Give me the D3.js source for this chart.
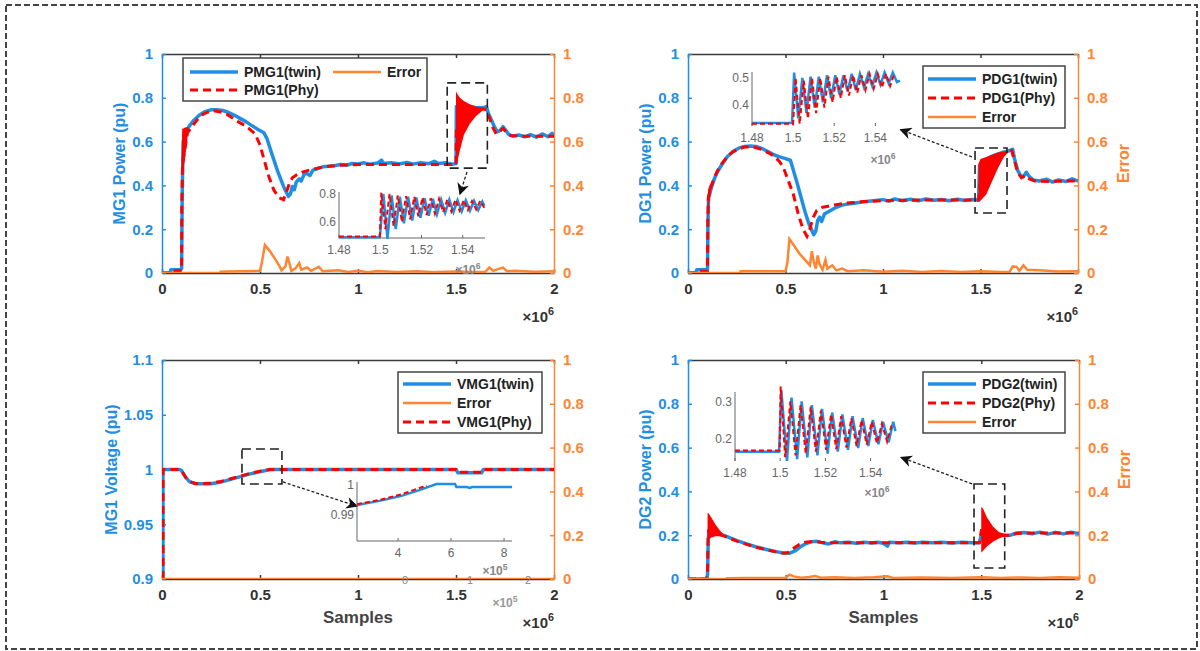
<!DOCTYPE html>
<html>
<head>
<meta charset="utf-8">
<script src="https://cdn.jsdelivr.net/npm/d3@7"></script>
<style>
  body { margin: 0; background: #fff; }
  svg { display: block; }
  text { font-family: "Liberation Sans", Arial, sans-serif; }
</style>
</head>
<body>
<svg id="chart" width="1200" height="651"></svg>
<script>
// ---- tick labels ----
const xTicks = [0, 0.5, 1, 1.5, 2];
const powerTicks = [0, 0.2, 0.4, 0.6, 0.8, 1];
const voltTicks = [0.9, 0.95, 1, 1.05, 1.1];
const errTicks = [0, 0.2, 0.4, 0.6, 0.8, 1];
const insetPowerXTicks = [1.48, 1.5, 1.52, 1.54];

// ---- MG1 power (x in 1e6 samples) ----
const pmg1Twin = [[0,0],[0.04,0],[0.045,0.015],[0.095,0.015],[0.1,0.02],[0.103,0.35],[0.108,0.6],[0.115,0.635],[0.125,0.65],[0.14,0.672],[0.16,0.695],[0.19,0.72],[0.22,0.737],[0.25,0.745],[0.28,0.746],[0.31,0.742],[0.34,0.733],[0.37,0.72],[0.4,0.705],[0.43,0.69],[0.46,0.672],[0.49,0.655],[0.52,0.64],[0.535,0.615],[0.56,0.545],[0.59,0.465],[0.62,0.395],[0.645,0.35],[0.655,0.36],[0.665,0.395],[0.675,0.38],[0.685,0.415],[0.7,0.43],[0.71,0.42],[0.725,0.45],[0.74,0.455],[0.755,0.445],[0.77,0.47],[0.79,0.475],[0.82,0.485],[0.85,0.487],[0.88,0.49],[0.91,0.495],[0.94,0.492],[0.97,0.5],[1.0,0.498],[1.03,0.503],[1.06,0.497],[1.1,0.502],[1.12,0.515],[1.13,0.5],[1.17,0.503],[1.21,0.498],[1.25,0.505],[1.28,0.497],[1.32,0.504],[1.36,0.499],[1.39,0.51],[1.41,0.5],[1.45,0.503],[1.48,0.497],[1.5,0.5],[1.502,0.76],[1.52,0.775],[1.55,0.765],[1.6,0.755],[1.64,0.755],[1.655,0.76],[1.665,0.73],[1.68,0.7],[1.695,0.67],[1.71,0.645],[1.725,0.65],[1.74,0.668],[1.755,0.65],[1.77,0.632],[1.79,0.625],[1.82,0.63],[1.85,0.622],[1.88,0.632],[1.91,0.62],[1.94,0.635],[1.97,0.622],[1.99,0.638],[2,0.628]];
const pmg1Phy = [[0,0],[0.045,0],[0.05,0.01],[0.1,0.01],[0.101,0.3],[0.105,0.5],[0.13,0.64],[0.15,0.665],[0.18,0.7],[0.21,0.725],[0.24,0.737],[0.27,0.74],[0.3,0.735],[0.33,0.725],[0.36,0.708],[0.39,0.69],[0.42,0.675],[0.45,0.655],[0.475,0.635],[0.5,0.585],[0.52,0.52],[0.545,0.44],[0.57,0.38],[0.595,0.345],[0.62,0.335],[0.635,0.37],[0.65,0.41],[0.665,0.435],[0.69,0.45],[0.72,0.462],[0.76,0.472],[0.8,0.48],[0.85,0.487],[0.9,0.492],[0.95,0.494],[1.0,0.495],[1.1,0.496],[1.2,0.495],[1.3,0.496],[1.4,0.495],[1.5,0.495],[1.502,0.65],[1.55,0.72],[1.6,0.74],[1.64,0.75],[1.655,0.745],[1.67,0.71],[1.69,0.66],[1.705,0.635],[1.72,0.645],[1.74,0.66],[1.76,0.64],[1.78,0.628],[1.82,0.625],[1.9,0.625],[2,0.625]];
// dense oscillation envelopes of the physical signal: [x, low, high]
const pmg1Bands = [
  [[0.1,0.45,0.5],[0.103,0.45,0.66],[0.11,0.48,0.66],[0.12,0.54,0.665],[0.13,0.62,0.665],[0.135,0.645,0.665]],
  [[1.5,0.49,0.83],[1.505,0.5,0.82],[1.52,0.56,0.8],[1.54,0.63,0.785],[1.57,0.68,0.77],[1.6,0.715,0.76],[1.63,0.738,0.756],[1.645,0.748,0.752]]
];
const pmg1Err = [[0,0],[0.3,0],[0.3,0.006],[0.4,0.008],[0.5,0.01],[0.51,0.05],[0.525,0.128],[0.55,0.1],[0.58,0.06],[0.6,0.03],[0.61,0.012],[0.63,0.03],[0.64,0.075],[0.65,0.045],[0.66,0.01],[0.68,0.02],[0.7,0.045],[0.71,0.015],[0.74,0.025],[0.76,0.01],[0.8,0.028],[0.82,0.008],[0.9,0.012],[0.95,0.005],[1.0,0.01],[1.05,0.004],[1.1,0.009],[1.2,0.005],[1.3,0.008],[1.4,0.004],[1.5,0.007],[1.6,0.004],[1.65,0.005],[1.67,0.025],[1.69,0.01],[1.72,0.02],[1.74,0.025],[1.76,0.008],[1.8,0.01],[1.9,0.006],[2,0.008]];
const pmg1InsetTwin = [[1.48,0.492],[1.4995,0.492],[1.5,0.52],[1.5015,0.8],[1.5035,0.48],[1.5055,0.79],[1.5075,0.55],[1.5095,0.78],[1.5115,0.59],[1.5135,0.78],[1.5155,0.61],[1.5175,0.775],[1.5195,0.63],[1.5215,0.77],[1.5235,0.645],[1.5255,0.765],[1.5275,0.655],[1.5295,0.76],[1.5315,0.665],[1.5335,0.76],[1.5355,0.67],[1.5375,0.755],[1.5395,0.675],[1.5415,0.755],[1.5435,0.68],[1.5455,0.75],[1.5475,0.685],[1.5495,0.745],[1.5505,0.715]];
const pmg1InsetPhy = [[1.48,0.497],[1.4998,0.497],[1.5005,0.81],[1.5025,0.55],[1.5045,0.8],[1.5065,0.57],[1.5085,0.79],[1.5105,0.6],[1.5125,0.785],[1.5145,0.62],[1.5165,0.78],[1.5185,0.64],[1.5205,0.775],[1.5225,0.65],[1.5245,0.77],[1.5265,0.66],[1.5285,0.765],[1.5305,0.67],[1.5325,0.76],[1.5345,0.675],[1.5365,0.76],[1.5385,0.68],[1.5405,0.755],[1.5425,0.685],[1.5445,0.75],[1.5465,0.69],[1.5485,0.75],[1.5505,0.7]];

// ---- DG1 power ----
const pdg1Twin = [[0,0],[0.04,0],[0.045,0.015],[0.1,0.015],[0.102,0.2],[0.105,0.34],[0.12,0.39],[0.135,0.43],[0.15,0.46],[0.17,0.49],[0.2,0.53],[0.23,0.555],[0.26,0.57],[0.29,0.578],[0.32,0.58],[0.35,0.578],[0.38,0.568],[0.41,0.555],[0.44,0.54],[0.47,0.53],[0.5,0.522],[0.525,0.515],[0.54,0.47],[0.56,0.41],[0.58,0.345],[0.6,0.28],[0.62,0.225],[0.645,0.175],[0.655,0.19],[0.665,0.24],[0.675,0.255],[0.685,0.235],[0.7,0.27],[0.72,0.28],[0.74,0.29],[0.76,0.3],[0.79,0.31],[0.82,0.315],[0.86,0.32],[0.9,0.325],[0.95,0.33],[1.0,0.335],[1.03,0.328],[1.06,0.338],[1.1,0.33],[1.14,0.337],[1.18,0.33],[1.22,0.338],[1.26,0.332],[1.3,0.336],[1.34,0.33],[1.38,0.337],[1.42,0.331],[1.46,0.336],[1.49,0.332],[1.495,0.49],[1.52,0.515],[1.55,0.53],[1.58,0.54],[1.61,0.55],[1.64,0.556],[1.665,0.565],[1.675,0.52],[1.69,0.47],[1.705,0.445],[1.72,0.44],[1.735,0.46],[1.75,0.44],[1.77,0.425],[1.8,0.42],[1.84,0.428],[1.87,0.415],[1.9,0.425],[1.94,0.418],[1.97,0.43],[2,0.42]];
const pdg1Phy = [[0,0],[0.045,0],[0.05,0.008],[0.1,0.008],[0.102,0.25],[0.105,0.35],[0.12,0.4],[0.135,0.435],[0.15,0.465],[0.17,0.495],[0.2,0.53],[0.23,0.553],[0.26,0.567],[0.29,0.575],[0.32,0.576],[0.35,0.572],[0.38,0.563],[0.41,0.55],[0.44,0.535],[0.47,0.508],[0.49,0.48],[0.515,0.42],[0.54,0.36],[0.565,0.27],[0.59,0.2],[0.61,0.168],[0.625,0.2],[0.64,0.25],[0.66,0.285],[0.69,0.3],[0.72,0.305],[0.76,0.312],[0.8,0.318],[0.85,0.322],[0.9,0.326],[1.0,0.33],[1.1,0.332],[1.2,0.333],[1.3,0.333],[1.4,0.333],[1.49,0.333],[1.5,0.42],[1.55,0.5],[1.6,0.54],[1.64,0.552],[1.66,0.558],[1.675,0.51],[1.69,0.46],[1.71,0.435],[1.73,0.445],[1.75,0.43],[1.78,0.42],[1.85,0.418],[1.95,0.42],[2,0.42]];
const pdg1Bands = [
  [[0.1,0.2,0.3],[0.103,0.26,0.38],[0.11,0.33,0.4],[0.12,0.38,0.41]],
  [[1.49,0.33,0.5],[1.5,0.33,0.52],[1.53,0.36,0.53],[1.56,0.42,0.54],[1.59,0.48,0.55],[1.62,0.53,0.555],[1.64,0.548,0.558]]
];
const pdg1Err = [[0,0],[0.27,0],[0.27,0.008],[0.5,0.008],[0.51,0.05],[0.52,0.155],[0.54,0.13],[0.57,0.09],[0.6,0.06],[0.625,0.035],[0.635,0.1],[0.645,0.05],[0.655,0.02],[0.665,0.08],[0.675,0.04],[0.69,0.015],[0.705,0.06],[0.715,0.02],[0.74,0.035],[0.76,0.012],[0.79,0.02],[0.82,0.008],[0.9,0.012],[1.0,0.006],[1.1,0.01],[1.2,0.005],[1.3,0.009],[1.4,0.005],[1.5,0.008],[1.6,0.005],[1.65,0.006],[1.665,0.03],[1.685,0.028],[1.7,0.01],[1.72,0.035],[1.74,0.015],[1.8,0.012],[1.9,0.007],[2,0.008]];
const pdg1InsetTwin = [[1.48,0.333],[1.4995,0.333],[1.5005,0.52],[1.5025,0.35],[1.5045,0.5],[1.5065,0.37],[1.5085,0.505],[1.5105,0.39],[1.5125,0.505],[1.5145,0.41],[1.5165,0.51],[1.5185,0.425],[1.5205,0.51],[1.5225,0.44],[1.5245,0.51],[1.5265,0.45],[1.5285,0.515],[1.5305,0.455],[1.5325,0.515],[1.5345,0.465],[1.5365,0.515],[1.5385,0.47],[1.5405,0.52],[1.5425,0.475],[1.5445,0.52],[1.5465,0.48],[1.5485,0.52],[1.5505,0.485],[1.552,0.49]];
const pdg1InsetPhy = [[1.48,0.33],[1.5,0.33],[1.5012,0.5],[1.5032,0.33],[1.5052,0.49],[1.5072,0.35],[1.5092,0.5],[1.5112,0.37],[1.5132,0.5],[1.5152,0.39],[1.5172,0.505],[1.5192,0.41],[1.5212,0.505],[1.5232,0.425],[1.5252,0.51],[1.5272,0.435],[1.5292,0.51],[1.5312,0.445],[1.5332,0.51],[1.5352,0.455],[1.5372,0.515],[1.5392,0.46],[1.5412,0.515],[1.5432,0.465],[1.5452,0.515],[1.5472,0.47],[1.5492,0.515]];

// ---- MG1 voltage ----
const vmg1Twin = [[0.005,0.9],[0.005,1.0],[0.09,1.0],[0.1,0.999],[0.12,0.993],[0.14,0.989],[0.17,0.987],[0.2,0.987],[0.25,0.987],[0.3,0.9885],[0.35,0.991],[0.4,0.9935],[0.45,0.996],[0.5,0.998],[0.55,1.0],[0.6,1.0],[1.0,1.0],[1.5,1.0],[1.51,0.997],[1.63,0.997],[1.64,1.0],[2,1.0]];
const vmg1Phy = [[0.005,0.9],[0.005,1.0],[0.09,1.0],[0.1,0.999],[0.12,0.993],[0.14,0.989],[0.17,0.9872],[0.2,0.9872],[0.25,0.9875],[0.3,0.989],[0.35,0.9915],[0.4,0.994],[0.45,0.9965],[0.5,0.9985],[0.55,1.0],[0.6,1.0],[1.0,1.0],[1.5,1.0],[1.51,0.9975],[1.63,0.9975],[1.64,1.0],[2,1.0]];
const vmg1Err = [[0,0],[2,0]];
// inset x in 1e5 samples
const vmg1InsetTwin = [[2.45,0.9933],[3.3,0.9947],[4.1,0.9963],[4.8,0.9983],[5.45,1.0003],[6.15,1.0003],[6.2,0.9993],[6.6,0.9993],[6.7,0.999],[6.8,0.9993],[8.3,0.9993]];
const vmg1InsetPhy = [[2.45,0.9936],[3.3,0.995],[4.1,0.9968],[4.8,0.999],[5.1,0.9997]];

// ---- DG2 power ----
const pdg2Twin = [[0,0],[0.095,0],[0.1,0.02],[0.103,0.16],[0.106,0.22],[0.12,0.215],[0.14,0.21],[0.16,0.205],[0.18,0.2],[0.2,0.193],[0.25,0.175],[0.3,0.16],[0.35,0.146],[0.4,0.135],[0.45,0.125],[0.48,0.12],[0.52,0.118],[0.55,0.13],[0.58,0.15],[0.6,0.16],[0.63,0.17],[0.66,0.172],[0.69,0.165],[0.72,0.16],[0.75,0.17],[0.78,0.165],[0.82,0.168],[0.86,0.163],[0.9,0.168],[0.94,0.164],[0.97,0.168],[1.0,0.163],[1.02,0.15],[1.03,0.168],[1.08,0.165],[1.12,0.168],[1.16,0.164],[1.2,0.168],[1.25,0.165],[1.3,0.168],[1.35,0.164],[1.4,0.168],[1.45,0.165],[1.49,0.165],[1.5,0.2],[1.52,0.16],[1.55,0.185],[1.58,0.195],[1.6,0.2],[1.65,0.2],[1.68,0.21],[1.72,0.212],[1.76,0.206],[1.8,0.214],[1.84,0.205],[1.88,0.213],[1.92,0.206],[1.96,0.214],[2,0.208]];
const pdg2Phy = [[0,0],[0.095,0],[0.1,0.02],[0.103,0.2],[0.106,0.22],[0.12,0.215],[0.14,0.208],[0.16,0.203],[0.18,0.198],[0.2,0.19],[0.25,0.173],[0.3,0.158],[0.35,0.145],[0.4,0.134],[0.45,0.124],[0.49,0.118],[0.51,0.12],[0.54,0.14],[0.57,0.158],[0.6,0.168],[0.64,0.172],[0.68,0.168],[0.72,0.165],[0.8,0.166],[0.9,0.166],[1.0,0.166],[1.1,0.166],[1.2,0.166],[1.3,0.166],[1.4,0.166],[1.49,0.166],[1.5,0.22],[1.55,0.2],[1.6,0.2],[1.65,0.198],[1.68,0.208],[1.75,0.21],[1.85,0.21],[2,0.21]];
const pdg2Bands = [
  [[0.1,0.15,0.3],[0.105,0.18,0.3],[0.12,0.19,0.28],[0.14,0.195,0.25],[0.16,0.195,0.225],[0.18,0.195,0.205]],
  [[1.5,0.12,0.33],[1.51,0.13,0.32],[1.53,0.15,0.28],[1.56,0.17,0.24],[1.59,0.185,0.215],[1.62,0.195,0.205]]
];
const pdg2Err = [[0,0],[0.2,0],[0.2,0.004],[0.3,0.005],[0.4,0.004],[0.5,0.006],[0.52,0.02],[0.54,0.012],[0.58,0.006],[0.62,0.009],[0.65,0.014],[0.68,0.006],[0.75,0.008],[0.85,0.005],[0.95,0.008],[1.02,0.012],[1.05,0.005],[1.2,0.007],[1.35,0.005],[1.5,0.008],[1.6,0.005],[1.7,0.007],[1.8,0.005],[1.9,0.008],[2,0.006]];
const pdg2InsetTwin = [[1.48,0.165],[1.4995,0.165],[1.5005,0.33],[1.503,0.14],[1.505,0.31],[1.5075,0.145],[1.5095,0.3],[1.512,0.15],[1.514,0.29],[1.5165,0.155],[1.5185,0.28],[1.521,0.16],[1.523,0.27],[1.5255,0.165],[1.5275,0.265],[1.53,0.17],[1.532,0.26],[1.5345,0.175],[1.5365,0.255],[1.539,0.18],[1.541,0.25],[1.5435,0.185],[1.5455,0.245],[1.548,0.19],[1.55,0.245],[1.551,0.22]];
const pdg2InsetPhy = [[1.48,0.168],[1.4998,0.168],[1.5002,0.34],[1.5022,0.15],[1.5045,0.3],[1.5068,0.155],[1.509,0.29],[1.5113,0.16],[1.5135,0.285],[1.5158,0.165],[1.518,0.275],[1.5203,0.17],[1.5225,0.265],[1.5248,0.172],[1.527,0.26],[1.5293,0.176],[1.5315,0.255],[1.5338,0.18],[1.536,0.25],[1.5383,0.184],[1.5405,0.245],[1.5428,0.188],[1.545,0.24],[1.5473,0.192],[1.5495,0.24]];

// ---- styles ----
const BLUE = '#1f8fe5';
const ORANGE = '#ff8533';
const RED = '#ff0000';
const AXIS = '#3a3a3a';

const svg = d3.select('#chart');

// outer dashed frame
svg.append('rect')
  .attr('x', 6).attr('y', 5).attr('width', 1191).attr('height', 644)
  .attr('fill', 'none').attr('stroke', '#444').attr('stroke-width', 2)
  .attr('stroke-dasharray', '6,3');

const defs = svg.append('defs');
defs.append('marker')
  .attr('id', 'arrowhead').attr('viewBox', '0 0 10 10')
  .attr('refX', 9).attr('refY', 5)
  .attr('markerWidth', 12).attr('markerHeight', 12)
  .attr('markerUnits', 'userSpaceOnUse')
  .attr('orient', 'auto')
  .append('path').attr('d', 'M0,0 L10,5 L0,10 L3,5 Z').attr('fill', '#111');

const panels = [
  {
    id: 'p1', left: 162, top: 54, width: 392, height: 219,
    yDomain: [0, 1], yTicks: powerTicks, ylabel: 'MG1 Power (pu)', ylabelX: 119,
    errLabel: false, xlabel: null,
    twin: pmg1Twin, phy: pmg1Phy, err: pmg1Err, bands: pmg1Bands,
    legend: { x: 183, y: 58, w: 244, h: 43,
      items: [
        { label: 'PMG1(twin)', kind: 'twin', lx: 190, ly: 72 },
        { label: 'Error', kind: 'err', lx: 333, ly: 72 },
        { label: 'PMG1(Phy)', kind: 'phy', lx: 190, ly: 90 }
      ] },
    box: [1.455, 1.66, 0.868, 0.479],
    arrow: [[1.556, 0.461], [1.52, 0.36]],
    inset: { x0: 339, x1: 485, y0: 192, y1: 238, xDomain: [1.48, 1.5508], yDomain: [0.486, 0.814],
      xTicks: insetPowerXTicks, yTicks: [0.6, 0.8], bottomLine: true,
      twin: pmg1InsetTwin, phy: pmg1InsetPhy, expLabel: [468, 274, '6'] }
  },
  {
    id: 'p2', left: 688, top: 54, width: 390, height: 219,
    yDomain: [0, 1], yTicks: powerTicks, ylabel: 'DG1 Power (pu)', ylabelX: 645,
    errLabel: true, xlabel: null,
    twin: pdg1Twin, phy: pdg1Phy, err: pdg1Err, bands: pdg1Bands,
    legend: { x: 923, y: 66, w: 142, h: 62,
      items: [
        { label: 'PDG1(twin)', kind: 'twin', lx: 928, ly: 79 },
        { label: 'PDG1(Phy)', kind: 'phy', lx: 928, ly: 98 },
        { label: 'Error', kind: 'err', lx: 928, ly: 117 }
      ] },
    box: [1.472, 1.636, 0.571, 0.274],
    arrow: [[1.456, 0.53], [1.09, 0.655]],
    inset: { x0: 752, x1: 900, y0: 72, y1: 126, xDomain: [1.48, 1.552], yDomain: [0.322, 0.522],
      xTicks: insetPowerXTicks, yTicks: [0.4, 0.5], bottomLine: false,
      twin: pdg1InsetTwin, phy: pdg1InsetPhy, expLabel: [883, 164, '6'] }
  },
  {
    id: 'p3', left: 162, top: 360, width: 392, height: 219,
    yDomain: [0.9, 1.1], yTicks: voltTicks, ylabel: 'MG1 Voltage (pu)', ylabelX: 111,
    errLabel: false, xlabel: 'Samples',
    twin: vmg1Twin, phy: vmg1Phy, err: vmg1Err, bands: [],
    legend: { x: 398, y: 372, w: 144, h: 61,
      items: [
        { label: 'VMG1(twin)', kind: 'twin', lx: 403, ly: 384 },
        { label: 'Error', kind: 'err', lx: 403, ly: 403 },
        { label: 'VMG1(Phy)', kind: 'phy', lx: 403, ly: 422 }
      ] },
    box: [0.408, 0.612, 1.0187, 0.9868],
    arrow: [[0.617, 0.9886], [0.995, 0.9665]],
    inset: { x0: 357, x1: 512, y0: 482, y1: 541, xDomain: [2.45, 8.3], yDomain: [0.9813, 1.001],
      xTicks: [4, 6, 8], yTicks: [0.99, 1], bottomLine: true,
      twin: vmg1InsetTwin, phy: vmg1InsetPhy, expLabel: [495, 575, '5'] }
  },
  {
    id: 'p4', left: 688, top: 360, width: 391, height: 219,
    yDomain: [0, 1], yTicks: powerTicks, ylabel: 'DG2 Power (pu)', ylabelX: 645,
    errLabel: true, xlabel: 'Samples',
    twin: pdg2Twin, phy: pdg2Phy, err: pdg2Err, bands: pdg2Bands,
    legend: { x: 923, y: 372, w: 142, h: 61,
      items: [
        { label: 'PDG2(twin)', kind: 'twin', lx: 928, ly: 384 },
        { label: 'PDG2(Phy)', kind: 'phy', lx: 928, ly: 403 },
        { label: 'Error', kind: 'err', lx: 928, ly: 422 }
      ] },
    box: [1.463, 1.62, 0.434, 0.05],
    arrow: [[1.453, 0.434], [1.09, 0.555]],
    inset: { x0: 735, x1: 895, y0: 392, y1: 461, xDomain: [1.48, 1.5508], yDomain: [0.14, 0.325],
      xTicks: insetPowerXTicks, yTicks: [0.2, 0.3], bottomLine: false,
      twin: pdg2InsetTwin, phy: pdg2InsetPhy, expLabel: [877, 497, '6'] }
  }
];

function styleAxis(g, color, fontSize) {
  g.select('.domain').attr('stroke', color).attr('stroke-width', 1.5);
  g.selectAll('.tick line').attr('stroke', color).attr('stroke-width', 1.5);
  g.selectAll('.tick text').attr('fill', color).attr('font-size', fontSize)
    .attr('font-weight', 'bold').attr('font-family', '"Liberation Sans", Arial, sans-serif');
}

function expText(parent, x, y, exp, size, color, anchor) {
  const t = parent.append('text').attr('x', x).attr('y', y)
    .attr('text-anchor', anchor).attr('fill', color)
    .attr('font-size', size).attr('font-weight', 'bold');
  t.append('tspan').text('×10');
  t.append('tspan').attr('dy', -size * 0.45).attr('font-size', size * 0.72).text(exp);
}

function drawPanel(p) {
  const x = d3.scaleLinear().domain([0, 2]).range([p.left, p.left + p.width]);
  const y = d3.scaleLinear().domain(p.yDomain).range([p.top + p.height, p.top]);
  const yR = d3.scaleLinear().domain([0, 1]).range([p.top + p.height, p.top]);
  const g = svg.append('g');

  defs.append('clipPath').attr('id', 'clip-' + p.id)
    .append('rect').attr('x', p.left).attr('y', p.top - 2)
    .attr('width', p.width).attr('height', p.height + 2);

  // axes
  const top = g.append('g').attr('transform', `translate(0,${p.top})`)
    .call(d3.axisTop(x).tickValues(xTicks).tickSizeInner(-4).tickSizeOuter(0).tickFormat(''));
  styleAxis(top, AXIS, 15);
  const bottom = g.append('g').attr('transform', `translate(0,${p.top + p.height})`)
    .call(d3.axisBottom(x).tickValues(xTicks).tickSizeInner(-4).tickSizeOuter(0)
      .tickPadding(10).tickFormat(d => String(d)));
  styleAxis(bottom, AXIS, 15);
  bottom.selectAll('.tick text').attr('fill', '#333');
  const left = g.append('g').attr('transform', `translate(${p.left},0)`)
    .call(d3.axisLeft(y).tickValues(p.yTicks).tickSizeInner(-4).tickSizeOuter(0)
      .tickPadding(9).tickFormat(d => String(d)));
  styleAxis(left, BLUE, 15);
  const right = g.append('g').attr('transform', `translate(${p.left + p.width},0)`)
    .call(d3.axisRight(yR).tickValues(errTicks).tickSizeInner(-4).tickSizeOuter(0)
      .tickPadding(9).tickFormat(d => String(d)));
  styleAxis(right, ORANGE, 15);

  // labels
  g.append('text')
    .attr('transform', `translate(${p.ylabelX},${p.top + p.height / 2}) rotate(-90)`)
    .attr('text-anchor', 'middle').attr('dy', '0.35em')
    .attr('fill', BLUE).attr('font-size', 16).attr('font-weight', 'bold')
    .text(p.ylabel);
  if (p.errLabel) {
    g.append('text')
      .attr('transform', `translate(${p.left + p.width + 45},${p.top + p.height / 2}) rotate(-90)`)
      .attr('text-anchor', 'middle').attr('dy', '0.35em')
      .attr('fill', ORANGE).attr('font-size', 16).attr('font-weight', 'bold')
      .text('Error');
  }
  if (p.xlabel) {
    g.append('text').attr('x', p.left + p.width / 2).attr('y', p.top + p.height + 44)
      .attr('text-anchor', 'middle').attr('fill', '#444')
      .attr('font-size', 17).attr('font-weight', 'bold').text(p.xlabel);
  }
  expText(g, p.left + p.width, p.top + p.height + 49, '6', 15, '#333', 'end');

  // data
  const plot = g.append('g').attr('clip-path', `url(#clip-${p.id})`);
  const line = d3.line().x(d => x(d[0])).y(d => y(d[1]));
  const lineR = d3.line().x(d => x(d[0])).y(d => yR(d[1]));
  const band = d3.area().x(d => x(d[0])).y0(d => y(d[1])).y1(d => y(d[2]));

  plot.append('path').datum(p.twin).attr('d', line)
    .attr('fill', 'none').attr('stroke', BLUE).attr('stroke-width', 3.5)
    .attr('stroke-linejoin', 'round');
  p.bands.forEach(b => {
    plot.append('path').datum(b).attr('d', band).attr('fill', RED);
  });
  plot.append('path').datum(p.phy).attr('d', line)
    .attr('fill', 'none').attr('stroke', RED).attr('stroke-width', 3)
    .attr('stroke-dasharray', '8,5');
  plot.append('path').datum(p.err).attr('d', lineR)
    .attr('fill', 'none').attr('stroke', ORANGE).attr('stroke-width', 2.5);

  // zoom box + arrow
  g.append('rect')
    .attr('x', x(p.box[0])).attr('y', y(p.box[2]))
    .attr('width', x(p.box[1]) - x(p.box[0])).attr('height', y(p.box[3]) - y(p.box[2]))
    .attr('fill', 'none').attr('stroke', '#222').attr('stroke-width', 1.6)
    .attr('stroke-dasharray', '9,5');
  g.append('line')
    .attr('x1', x(p.arrow[0][0])).attr('y1', y(p.arrow[0][1]))
    .attr('x2', x(p.arrow[1][0])).attr('y2', y(p.arrow[1][1]))
    .attr('stroke', '#222').attr('stroke-width', 1.3).attr('stroke-dasharray', '3,2')
    .attr('marker-end', 'url(#arrowhead)');

  // legend
  const L = p.legend;
  const lg = g.append('g');
  lg.append('rect').attr('x', L.x).attr('y', L.y).attr('width', L.w).attr('height', L.h)
    .attr('fill', '#fff').attr('stroke', '#444').attr('stroke-width', 1.5);
  L.items.forEach(it => {
    const s = lg.append('line').attr('x1', it.lx).attr('x2', it.lx + 48)
      .attr('y1', it.ly).attr('y2', it.ly);
    if (it.kind === 'twin') s.attr('stroke', BLUE).attr('stroke-width', 3.5);
    if (it.kind === 'phy') s.attr('stroke', RED).attr('stroke-width', 3).attr('stroke-dasharray', '8,5');
    if (it.kind === 'err') s.attr('stroke', ORANGE).attr('stroke-width', 2.5);
    lg.append('text').attr('x', it.lx + 54).attr('y', it.ly).attr('dy', '0.35em')
      .attr('fill', '#222').attr('font-size', 14).attr('font-weight', 'bold').text(it.label);
  });

  // inset
  const I = p.inset;
  const ix = d3.scaleLinear().domain(I.xDomain).range([I.x0, I.x1]);
  const iy = d3.scaleLinear().domain(I.yDomain).range([I.y1, I.y0]);
  const ig = g.append('g');
  ig.append('line').attr('x1', I.x0).attr('x2', I.x0).attr('y1', I.y0).attr('y2', I.y1)
    .attr('stroke', '#666').attr('stroke-width', 1);
  if (I.bottomLine) {
    ig.append('line').attr('x1', I.x0).attr('x2', I.x1).attr('y1', I.y1).attr('y2', I.y1)
      .attr('stroke', '#666').attr('stroke-width', 1);
  }
  ig.selectAll('.ixt').data(I.xTicks).join('text')
    .attr('x', d => ix(d)).attr('y', I.y1 + 16)
    .attr('text-anchor', 'middle').attr('fill', '#666').attr('font-size', 12)
    .text(d => String(d));
  ig.selectAll('.ixtick').data(I.xTicks).join('line')
    .attr('x1', d => ix(d)).attr('x2', d => ix(d)).attr('y1', I.y1).attr('y2', I.y1 - 3)
    .attr('stroke', '#666');
  ig.selectAll('.iyt').data(I.yTicks).join('text')
    .attr('x', I.x0 - 3).attr('y', d => iy(d)).attr('dy', '0.35em')
    .attr('text-anchor', 'end').attr('fill', '#666').attr('font-size', 12)
    .text(d => String(d));
  expText(ig, I.expLabel[0], I.expLabel[1], I.expLabel[2], 12, '#888', 'middle');
  const iline = d3.line().x(d => ix(d[0])).y(d => iy(d[1]));
  ig.append('path').datum(I.twin).attr('d', iline)
    .attr('fill', 'none').attr('stroke', BLUE).attr('stroke-width', 2.5);
  ig.append('path').datum(I.phy).attr('d', iline)
    .attr('fill', 'none').attr('stroke', RED).attr('stroke-width', 2)
    .attr('stroke-dasharray', '5,3');
}

panels.forEach(drawPanel);

// stray tick labels left over in the voltage panel
const strayLabels = [['0', 405, 584], ['1', 470, 584], ['2', 528, 584]];
const stray = svg.append('g');
stray.selectAll('text').data(strayLabels).join('text')
  .attr('x', d => d[1]).attr('y', d => d[2])
  .attr('text-anchor', 'middle').attr('fill', '#888').attr('font-size', 11)
  .text(d => d[0]);
expText(stray, 505, 607, '5', 12, '#999', 'middle');
</script>
</body>
</html>
